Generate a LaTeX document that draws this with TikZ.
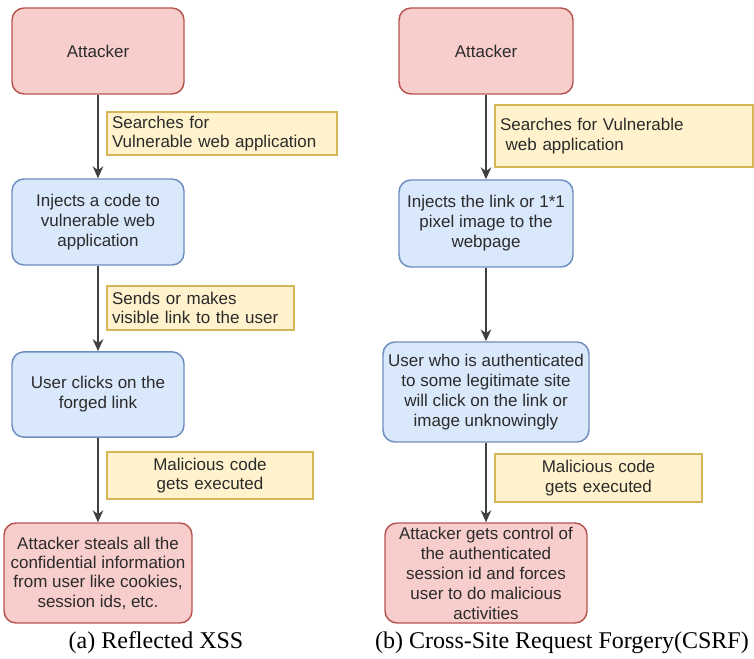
\documentclass[tikz,border=0pt]{standalone}
\usepackage{fontspec}
\setmainfont{Liberation Sans}
\newfontfamily\capfont{Liberation Serif}
\usetikzlibrary{arrows.meta,positioning}
\definecolor{redfill}{HTML}{F8CECC}
\definecolor{reddraw}{HTML}{B85450}
\definecolor{bluefill}{HTML}{DAE8FC}
\definecolor{bluedraw}{HTML}{6C8EBF}
\definecolor{notefill}{HTML}{FFF2CC}
\definecolor{notedraw}{HTML}{D6B656}
\definecolor{txt}{HTML}{2B2B2B}
\definecolor{linecol}{HTML}{404040}

\begin{document}
\begin{tikzpicture}[x=0.75pt,y=-0.75pt,
  box/.style={draw, line width=1.1pt, rounded corners=9pt, align=center, text=txt, inner sep=2pt, font=\fontsize{12.75}{15}\selectfont},
  attbox/.style={box, fill=redfill, draw=reddraw},
  stepbox/.style={box, fill=bluefill, draw=bluedraw},
  note/.style={draw=notedraw, fill=notefill, line width=0.9pt, text=txt, inner xsep=3.75pt, inner ysep=1pt, font=\fontsize{12.75}{14.5}\selectfont},
  arr/.style={draw=linecol, line width=1.1pt, -{Stealth[length=9pt,width=8pt]}},
  subcap/.style={font=\capfont\fontsize{18}{20}\selectfont}]
  \useasboundingbox (0,0) rectangle (754,659);

  % (a) Reflected XSS
  \node[attbox, minimum width=129pt, minimum height=64.5pt] (a1) at (98,51) {Attacker};
  \node[stepbox, minimum width=129pt, minimum height=64.5pt] (a2) at (98,222) {Injects a code to\\vulnerable web\\application};
  \node[stepbox, minimum width=129pt, minimum height=64pt] (a3) at (98,394.5) {User clicks on the\\forged link};
  \node[attbox, minimum width=141pt, minimum height=75pt, font=\fontsize{12.75}{14.5}\selectfont] (a4) at (98,573) {Attacker steals all the\\confidential information\\from user like cookies,\\session ids, etc.};

  \draw[arr] (a1) -- (a2);
  \draw[arr] (a2) -- (a3);
  \draw[arr] (a3) -- (a4);

  \node[note, align=left, text width=165pt, minimum height=32.25pt] (la1) at (222,133.5) {Searches for\\Vulnerable web application};
  \node[note, align=left, text width=132.75pt, minimum height=33pt] (la2) at (200.5,308) {Sends or makes\\visible link to the user};
  \node[note, align=center, text width=147pt, minimum height=35.25pt] (la3) at (210,475.5) {Malicious code\\gets executed};

  \node[subcap] (capa) at (156,643) {(a) Reflected XSS};

  % (b) CSRF
  \node[attbox, minimum width=130.5pt, minimum height=64.5pt] (b1) at (486,51) {Attacker};
  \node[stepbox, minimum width=130.5pt, minimum height=65.25pt] (b2) at (486,223.5) {Injects the link or 1*1\\pixel image to the\\webpage};
  \node[stepbox, minimum width=154.5pt, minimum height=75pt] (b3) at (486,392) {User who is authenticated\\to some legitimate site\\will click on the link or\\image unknowingly};
  \node[attbox, minimum width=151.5pt, minimum height=75pt] (b4) at (486,573) {Attacker gets control of\\the authenticated\\session id and forces\\user to do malicious\\activities};

  \draw[arr] (b1) -- (b2);
  \draw[arr] (b2) -- (b3);
  \draw[arr] (b3) -- (b4);

  \node[note, align=left, text width=186pt, minimum height=46.5pt] (lb1) at (624,136) {Searches for Vulnerable\\\ web application};
  \node[note, align=center, text width=147.75pt, minimum height=36pt] (lb2) at (598.5,478) {Malicious code\\gets executed};

  \node[subcap] (capb) at (562,643) {(b) Cross-Site Request Forgery(CSRF)};
\end{tikzpicture}
\end{document}
